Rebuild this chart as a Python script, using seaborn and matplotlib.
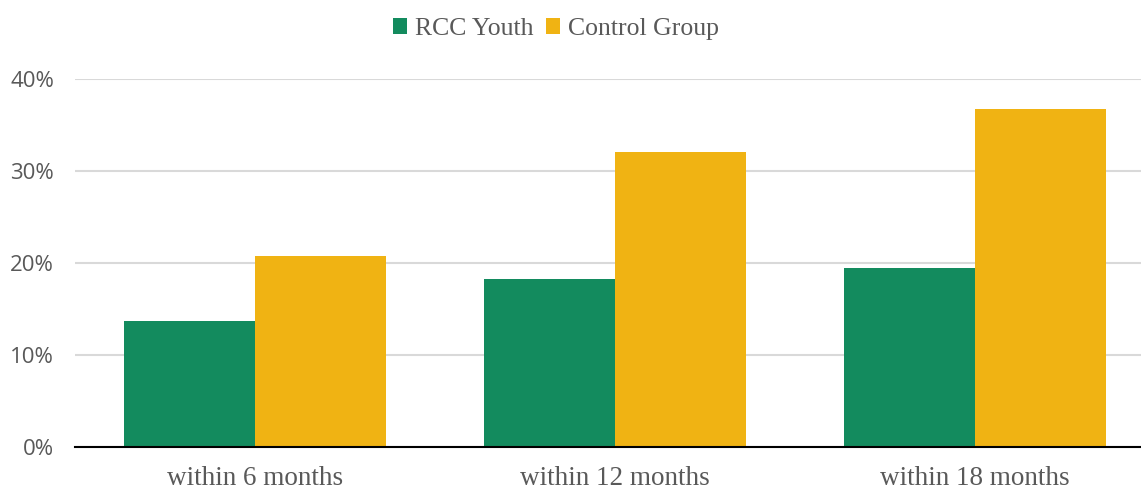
import matplotlib
matplotlib.use("Agg")
import matplotlib.pyplot as plt
import seaborn as sns
import pandas as pd
from matplotlib.ticker import FuncFormatter

categories = ["within 6 months", "within 12 months", "within 18 months"]
series_names = ["RCC Youth", "Control Group"]
rcc_youth = [13.7, 18.3, 19.5]
control_group = [20.8, 32.1, 36.7]
y_ticks = [0, 10, 20, 30, 40]

df = pd.DataFrame({
    "period": categories * 2,
    "group": [series_names[0]] * 3 + [series_names[1]] * 3,
    "value": rcc_youth + control_group,
})

sns.set_theme(style="white")
plt.rcParams["font.family"] = ["Liberation Serif", "DejaVu Serif"]

W, H = 1141, 490
fig = plt.figure(figsize=(W / 100, H / 100), dpi=100)
ax = fig.add_axes([75 / W, 1 - 447 / H, 1 - 75 / W, (447 - 79) / H])

palette = {"RCC Youth": "#138B5E", "Control Group": "#F0B313"}
sns.barplot(data=df, x="period", y="value", hue="group", palette=palette,
            width=0.728, ax=ax, legend=True, saturation=1, linewidth=0, zorder=3)

ax.set_ylim(0, 40)
ax.set_xlim(-0.5, (W - 75) / 360 - 0.5)
ax.set_yticks(y_ticks)
ax.yaxis.set_major_formatter(FuncFormatter(lambda v, p: f"{int(v)}%"))
ax.grid(axis="y", color="#D9D9D9", linewidth=1.5, zorder=0)
ax.grid(axis="x", visible=False)
for s in ["top", "right", "left"]:
    ax.spines[s].set_visible(False)
ax.spines["bottom"].set_color("black")
ax.spines["bottom"].set_linewidth(1.5)
ax.spines["bottom"].set_zorder(5)
ax.set_xlabel("")
ax.set_ylabel("")
ax.tick_params(axis="both", length=0)
ax.tick_params(axis="y", pad=15)
ax.tick_params(axis="x", pad=14)
for lbl in ax.get_yticklabels():
    lbl.set_fontfamily("Open Sans")
    lbl.set_fontsize(16)
    lbl.set_color("#595959")
for lbl in ax.get_xticklabels():
    lbl.set_fontsize(19.5)
    lbl.set_color("#595959")

handles, labels = ax.get_legend_handles_labels()
ax.get_legend().remove()
leg = fig.legend(handles, labels, loc="center", bbox_to_anchor=(556 / W, 1 - 29 / H),
                 ncol=2, frameon=False, fontsize=18.5, handlelength=0.55, handleheight=0.55,
                 handletextpad=0.3, columnspacing=0.5)
for t in leg.get_texts():
    t.set_color("#595959")

fig.savefig("out.png", dpi=100)
